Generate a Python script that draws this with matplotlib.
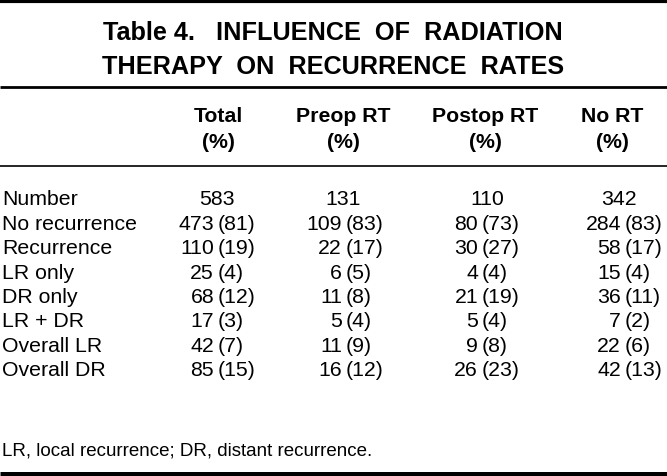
import matplotlib
matplotlib.use("Agg")
import matplotlib.pyplot as plt

plt.rcParams['font.family'] = ['Liberation Sans', 'DejaVu Sans']

title_lines = ["Table 4.   INFLUENCE  OF  RADIATION", "THERAPY  ON  RECURRENCE  RATES"]
columns = ["Total", "Preop RT", "Postop RT", "No RT"]
row_labels = ["Number", "No recurrence", "Recurrence", "LR only", "DR only",
              "LR + DR", "Overall LR", "Overall DR"]
totals = [583, 131, 110, 342]
total_col = [473, 110, 25, 68, 17, 42, 85]
total_pct = [81, 19, 4, 12, 3, 7, 15]
preop_col = [109, 22, 6, 11, 5, 11, 16]
preop_pct = [83, 17, 5, 8, 4, 9, 12]
postop_col = [80, 30, 4, 21, 5, 9, 26]
postop_pct = [73, 27, 4, 19, 4, 8, 23]
nort_col = [284, 58, 15, 36, 7, 22, 42]
nort_pct = [83, 17, 4, 11, 2, 6, 13]
footnote = "LR, local recurrence; DR, distant recurrence."

counts = [total_col, preop_col, postop_col, nort_col]
pcts = [total_pct, preop_pct, postop_pct, nort_pct]

# layout in pixels
col_x = [218, 343, 485, 612]
num_x = [217, 343, 487, 619]
paren_x = [218, 346, 482, 625]
row_y0, row_dy = 200, 24.4
fs = 15.3

fig = plt.figure(figsize=(6.67, 4.77), dpi=100)
ax = fig.add_axes([0, 0, 1, 1])
ax.set_xlim(0, 667)
ax.set_ylim(477, 0)
ax.axis('off')

def hline(y, lw):
    ax.plot([0, 667], [y, y], color='black', lw=lw, solid_capstyle='butt')

hline(2, 3.0)
hline(88, 2.0)
hline(167, 1.2)
hline(474.5, 3.6)

ax.text(333, 33, title_lines[0], ha='center', va='center', fontsize=18.2, fontweight='bold')
ax.text(333, 67, title_lines[1], ha='center', va='center', fontsize=18.2, fontweight='bold')

for x, c in zip(col_x, columns):
    ax.text(x, 116, c, ha='center', va='center', fontsize=fs, fontweight='bold')
    ax.text(x, 143, "(%)", ha='center', va='center', fontsize=fs, fontweight='bold')

for i, lab in enumerate(row_labels):
    ax.text(2, row_y0 + i * row_dy, lab, ha='left', va='center', fontsize=fs)

for j in range(4):
    ax.text(num_x[j], row_y0, str(totals[j]), ha='center', va='center', fontsize=fs)
    for i in range(len(counts[j])):
        y = row_y0 + (i + 1) * row_dy
        ax.text(paren_x[j] - 4, y, str(counts[j][i]), ha='right', va='center', fontsize=fs)
        ax.text(paren_x[j], y, "(%d)" % pcts[j][i], ha='left', va='center', fontsize=fs)

ax.text(2, 451, footnote, ha='left', va='center', fontsize=13.5)

fig.savefig("out.png", dpi=100)
